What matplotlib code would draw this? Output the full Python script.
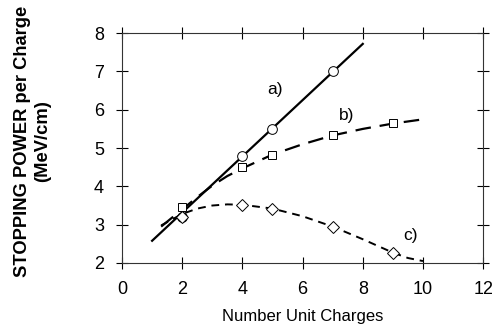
import numpy as np
import matplotlib.pyplot as plt

plt.rcParams['font.family'] = ['Liberation Sans', 'DejaVu Sans']

# measured points
x_pts = [2, 4, 5, 7, 9]
a_pts_x = [2, 4, 5, 7]
a_pts_y = [3.2, 4.78, 5.5, 7.0]
b_pts_y = [3.45, 4.5, 4.83, 5.33, 5.65]
c_pts_y = [3.2, 3.52, 3.42, 2.95, 2.25]

# fitted curves
a_fit_x = [1.0, 8.0]
a_fit_y = [2.58, 7.72]
b_fit_x = [1.3, 2, 2.5, 3, 3.5, 4, 5, 6, 7, 8, 9, 10]
b_fit_y = [2.95, 3.4, 3.72, 4.02, 4.27, 4.47, 4.83, 5.1, 5.33, 5.5, 5.64, 5.75]
c_fit_x = [1.3, 2, 2.5, 3, 3.5, 4, 5, 6, 7, 8, 9, 9.5, 10]
c_fit_y = [2.98, 3.28, 3.42, 3.5, 3.53, 3.52, 3.42, 3.22, 2.95, 2.62, 2.27, 2.13, 2.05]

fig = plt.figure(figsize=(4.92, 3.35), dpi=100)
ax = fig.add_axes([0.248, 0.215, 0.734, 0.686])

ax.plot(a_fit_x, a_fit_y, color='black', lw=1.6)
ax.plot(b_fit_x, b_fit_y, color='black', lw=1.6, dashes=(7, 4))
ax.plot(c_fit_x, c_fit_y, color='black', lw=1.4, dashes=(4, 3))

ax.plot(a_pts_x, a_pts_y, 'o', ms=7, mfc='white', mec='black', mew=0.7)
ax.plot(x_pts, b_pts_y, 's', ms=6, mfc='white', mec='black', mew=0.7)
ax.plot(x_pts, c_pts_y, 'D', ms=6, mfc='white', mec='black', mew=0.7)

ax.text(5.07, 6.52, 'a)', fontsize=12.5, ha='center', va='center')
ax.text(7.47, 5.86, 'b)', fontsize=12.5, ha='center', va='center')
ax.text(9.57, 2.73, 'c)', fontsize=12.5, ha='center', va='center')

ax.set_xlim(0, 12)
ax.set_ylim(2, 8)
ax.set_xticks(np.arange(0, 13, 2))
ax.set_yticks(np.arange(2, 9, 1))
ax.tick_params(direction='inout', length=8, width=0.8, labelsize=13,
               top=True, right=True, pad=9)
for s in ax.spines.values():
    s.set_linewidth(0.8)
    s.set_color('#333333')

ax.set_xlabel('Number Unit Charges', fontsize=12, labelpad=8)
ax.set_ylabel('STOPPING POWER per Charge\n(MeV/cm)', fontsize=13.2,
              fontweight='bold', linespacing=1.3)
ax.yaxis.set_label_coords(-0.195, 0.53)

fig.savefig('out.png', dpi=100)
